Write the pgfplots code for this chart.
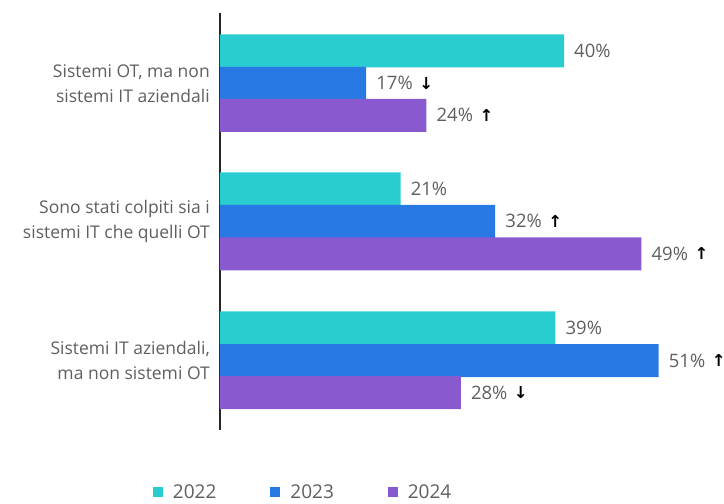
\documentclass[border=0pt]{standalone}
\usepackage{pgfplots}
\pgfplotsset{compat=1.18}
\usepackage{pgfplotstable}
\usepackage{fontspec}
\setmainfont{Open Sans}
\newfontfamily\dejavu{DejaVu Sans}
\definecolor{c22}{RGB}{41,204,207}
\definecolor{c23}{RGB}{41,121,228}
\definecolor{c24}{RGB}{137,90,207}
\definecolor{txt}{RGB}{95,95,95}
\protected\def\arrup{\hspace{13.5bp}\makebox[0pt]{\dejavu\bfseries\fontsize{16.5bp}{16.5bp}\selectfont\color{black}\raisebox{0.5bp}{↑}}}
\protected\def\arrdn{\hspace{13.5bp}\makebox[0pt]{\dejavu\bfseries\fontsize{16.5bp}{16.5bp}\selectfont\color{black}\raisebox{0.5bp}{↓}}}

\pgfplotstableread{
x y lab
40 51 40\%
21 189 21\%
39 328 39\%
}\tA
\pgfplotstableread{
x y lab
17 83.5 17\%\arrdn
32 221.5 32\%\arrup
51 360.5 51\%\arrup
}\tB
\pgfplotstableread{
x y lab
24 115.5 24\%\arrup
49 254 49\%\arrup
28 392.5 28\%\arrdn
}\tC

\begin{document}
\begin{tikzpicture}
\begin{axis}[
  name=ax,
  scale only axis,
  width=504bp, height=417bp,
  xmin=0, xmax=58.6,
  ymin=13, ymax=430,
  y dir=reverse,
  axis x line=none,
  axis y line*=left,
  y axis line style={line width=2bp, black!85},
  xbar, bar shift=0pt, bar width=33,
  ytick={83.5,221.5,360.5},
  yticklabels={{Sistemi OT, ma non\\sistemi IT aziendali},{Sono stati colpiti sia i\\sistemi IT che quelli OT},{Sistemi IT aziendali,\\ma non sistemi OT}},
  major tick length=0pt,
  yticklabel style={align=right, text=txt, inner sep=0pt, font=\fontsize{17.5bp}{25bp}\selectfont, xshift=-10bp},
  clip=false,
  point meta=explicit symbolic,
  nodes near coords={\pgfplotspointmeta},
  every node near coord/.append style={anchor=base west, inner sep=0pt, xshift=10bp, yshift=-6.5bp, text=txt, font=\fontsize{18.5bp}{20bp}\selectfont},
  legend columns=3,
  legend style={at={(0.165,-0.149)}, anchor=center, draw=none, fill=none,
    font=\fontsize{19bp}{21bp}\selectfont, text=txt,
    /tikz/every odd column/.append style={column sep=8bp},
    /tikz/every even column/.append style={column sep=52bp}},
  legend image code/.code={\fill[#1,draw=none] (0bp,-5bp) rectangle (10bp,5bp);},
]
\addplot[fill=c22, draw=none] table[x=x,y=y,meta=lab] {\tA};
\addplot[fill=c23, draw=none] table[x=x,y=y,meta=lab] {\tB};
\addplot[fill=c24, draw=none] table[x=x,y=y,meta=lab] {\tC};
\legend{2022,2023,2024}
\end{axis}
\path (ax.south west) ++(-220bp,-71bp) rectangle ++(724bp,501bp);
\end{tikzpicture}
\end{document}
